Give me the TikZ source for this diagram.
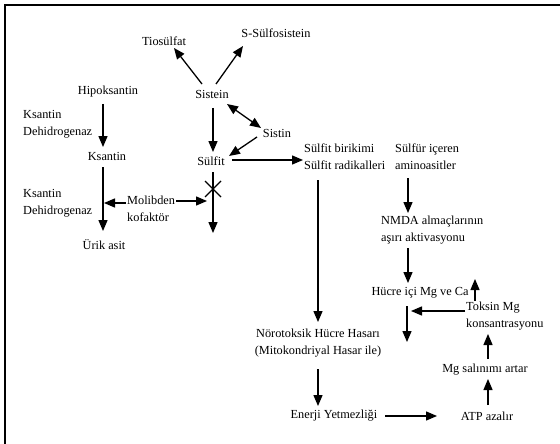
\documentclass[tikz,border=0pt]{standalone}
\usepackage{fontspec}
\setmainfont{Liberation Serif}
\usetikzlibrary{arrows.meta}
\begin{document}
\begin{tikzpicture}[x=1pt,y=-1pt,
  txt/.style={inner sep=1pt,font=\fontsize{12.3}{17}\selectfont},
  ltxt/.style={txt,anchor=west,align=left},
  arr/.style={line width=1.3pt,-{Triangle[length=11pt,width=9pt]}},
  darr/.style={line width=1.3pt,{Triangle[length=11pt,width=9pt]}-{Triangle[length=11pt,width=9pt]}},
  ln/.style={line width=1.3pt}]
\useasboundingbox (0,0) rectangle (560,444);
\draw[line width=2pt] (5,444) -- (5,5) -- (560,5);
% nodes
\node[txt] (tio) at (164,41) {Tiosülfat};
\node[txt] (ssul) at (276,33) {S-Sülfosistein};
\node[txt] (sistein) at (212,94) {Sistein};
\node[txt] (hipo) at (108,92) {Hipoksantin};
\node[ltxt] (kd1) at (22,124) {Ksantin\\Dehidrogenaz};
\node[txt] (sistin) at (277,133) {Sistin};
\node[txt] (sulfit) at (211,161) {Sülfit};
\node[txt] (ksantin) at (107,156) {Ksantin};
\node[ltxt] (srad) at (303,157) {Sülfit birikimi\\Sülfit radikalleri};
\node[ltxt] (amino) at (394,157) {Sülfür içeren\\aminoasitler};
\node[ltxt] (kd2) at (22,203) {Ksantin\\Dehidrogenaz};
\node[ltxt] (molib) at (126,209) {Molibden\\kofaktör};
\node[txt] (urik) at (104,245) {Ürik asit};
\node[ltxt] (nmda) at (380,230) {NMDA almaçlarının\\aşırı aktivasyonu};
\node[txt] (hucre) at (420,293) {Hücre içi Mg ve Ca};
\node[ltxt] (toksin) at (465,316) {Toksin Mg\\konsantrasyonu};
\node[txt,align=center] (noro) at (318,343) {Nörotoksik Hücre Hasarı\\(Mitokondriyal Hasar ile)};
\node[txt] (mgsal) at (485,370) {Mg salınımı artar};
\node[txt] (enerji) at (334,416) {Enerji Yetmezliği};
\node[txt] (atp) at (487,416) {ATP azalır};
% connector end points
\coordinate (a1) at (202,84);  \coordinate (a2) at (174,48);
\coordinate (b1) at (216,84);  \coordinate (b2) at (243,46);
\coordinate (c1) at (213,108); \coordinate (c2) at (213,152);
\coordinate (d1) at (227,104); \coordinate (d2) at (261,128);
\coordinate (e1) at (257,137); \coordinate (e2) at (229,156);
\coordinate (f1) at (232,160); \coordinate (f2) at (303,160);
\coordinate (sx) at (213,172); \coordinate (sy) at (213,233);
\coordinate (xm) at (207,201); \coordinate (km) at (104,203);
\coordinate (g1) at (103,104); \coordinate (g2) at (103,147);
\coordinate (h1) at (103,167); \coordinate (h2) at (103,231);
\coordinate (i1) at (318,180); \coordinate (i2) at (318,322);
\coordinate (j1) at (408,178); \coordinate (j2) at (408,213);
\coordinate (k1) at (408,248); \coordinate (k2) at (408,283);
\coordinate (hu1) at (475,301); \coordinate (hu2) at (475,279);
\coordinate (l1) at (465,311); \coordinate (l2) at (411,311);
\coordinate (hd1) at (407,306); \coordinate (hd2) at (407,342);
\coordinate (m1) at (488,359); \coordinate (m2) at (488,334);
\coordinate (n1) at (488,405); \coordinate (n2) at (488,379);
\coordinate (o1) at (318,369); \coordinate (o2) at (318,406);
\coordinate (p1) at (385,416); \coordinate (p2) at (437,416);
% connectors
\draw[arr] (a1) -- (a2);
\draw[arr] (b1) -- (b2);
\draw[arr] (c1) -- (c2);
\draw[darr] (d1) -- (d2);
\draw[arr] (e1) -- (e2);
\draw[arr] (f1) -- (f2);
\draw[arr] (sx) -- (sy);
\draw[ln] (205,181) -- (221,197) (205,197) -- (221,181);
\draw[arr] (molib.east |- xm) -- (xm);
\draw[arr] (molib.west |- km) -- (km);
\draw[arr] (g1) -- (g2);
\draw[arr] (h1) -- (h2);
\draw[arr] (i1) -- (i2);
\draw[arr] (j1) -- (j2);
\draw[arr] (k1) -- (k2);
\draw[arr] (hu1) -- (hu2);
\draw[arr] (l1) -- (l2);
\draw[arr] (hd1) -- (hd2);
\draw[arr] (m1) -- (m2);
\draw[arr] (n1) -- (n2);
\draw[arr] (o1) -- (o2);
\draw[arr] (p1) -- (p2);
\end{tikzpicture}
\end{document}
